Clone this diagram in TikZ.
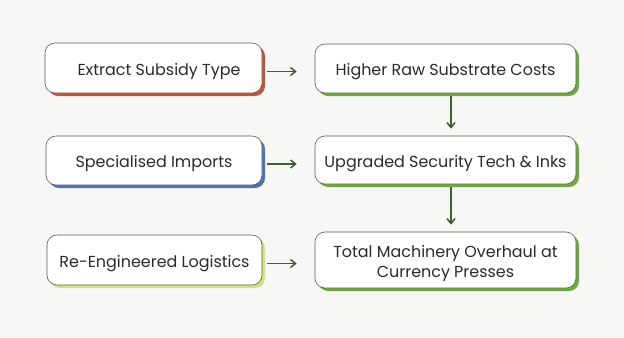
\documentclass[tikz,border=0pt]{standalone}
\usepackage{fontspec}
\setmainfont{Poppins}
\usetikzlibrary{shadows,arrows.meta}
\definecolor{bg}{HTML}{F7F7F5}
\definecolor{txt}{HTML}{2A2A2A}
\definecolor{edge}{HTML}{5A5A5A}
\definecolor{arr}{HTML}{3F5F2C}
\definecolor{cred}{HTML}{C2563A}
\definecolor{cblue}{HTML}{4C72B8}
\definecolor{cyel}{HTML}{D5E17C}
\definecolor{cgreen}{HTML}{6CAA3C}
\tikzset{
  card/.style={draw=edge, line width=0.6pt, fill=white, rounded corners=10bp,
    inner sep=0pt,
    drop shadow={shadow xshift=3bp, shadow yshift=-3bp, fill=#1, opacity=1}},
  lbl/.style={text=txt, font=\fontsize{16}{19.5}\selectfont, align=center,
    inner sep=0pt, yshift=-3.5bp},
  link/.style={draw=arr, line width=1.5pt, -{Straight Barb[length=5bp,width=8bp]}}
}
\begin{document}
\begin{tikzpicture}[x=1bp,y=-1bp]
\fill[bg] (0,0) rectangle (624,337);
\useasboundingbox (0,0) rectangle (624,337);
\node[card=cred, minimum width=217bp, minimum height=50bp,
  label={[lbl, xshift=5.5bp]center:Extract Subsidy Type}] (L1) at (153.5,68) {};
\node[card=cgreen, minimum width=261bp, minimum height=49bp,
  label={[lbl]center:Higher Raw Substrate Costs}] (R1) at (445.5,68.5) {};
\node[card=cblue, minimum width=216bp, minimum height=49bp,
  label={[lbl]center:Specialised Imports}] (L2) at (154,160.5) {};
\node[card=cgreen, minimum width=261bp, minimum height=48bp,
  label={[lbl]center:Upgraded Security Tech \& Inks}] (R2) at (445.5,160) {};
\node[card=cyel, minimum width=215bp, minimum height=50bp,
  label={[lbl]center:Re-Engineered Logistics}] (L3) at (154.5,260) {};
\node[card=cgreen, minimum width=261bp, minimum height=56bp,
  label={[lbl]center:Total Machinery Overhaul at\\Currency Presses}] (R3) at (445.5,260) {};
\draw[link, shorten <=5bp, shorten >=18bp] ([yshift=-3.5bp]L1.east) -- ([yshift=-3.5bp]R1.west |- L1.east);
\draw[link, shorten <=5bp, shorten >=18bp] ([yshift=-3.5bp]L2.east) -- ([yshift=-3.5bp]R2.west |- L2.east);
\draw[link, shorten <=5bp, shorten >=18bp] ([yshift=-3.5bp]L3.east) -- ([yshift=-3.5bp]R3.west |- L3.east);
\draw[link, shorten <=3bp, shorten >=7bp] ([xshift=5.5bp]R1.south) -- ([xshift=5.5bp]R2.north);
\draw[link, shorten <=3bp, shorten >=7bp] ([xshift=5.5bp]R2.south) -- ([xshift=5.5bp]R3.north);
\end{tikzpicture}
\end{document}
